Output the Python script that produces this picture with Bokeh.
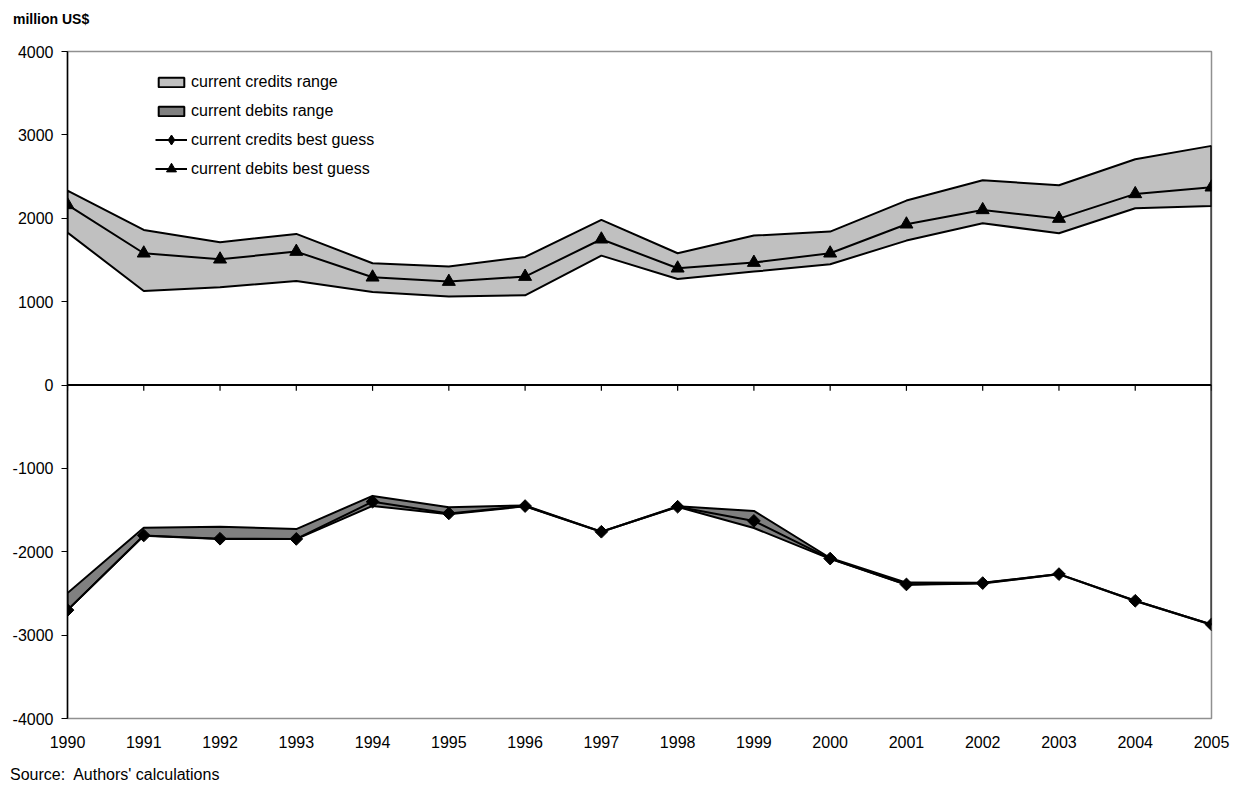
import math
from bokeh.plotting import figure
from bokeh.layouts import column
from bokeh.models import Range1d, FixedTicker, Span, Div, Legend, LegendItem
from bokeh.embed import file_html
from bokeh.resources import INLINE

years = list(range(1990, 2006))
y_ticks = [-4000, -3000, -2000, -1000, 0, 1000, 2000, 3000, 4000]

# upper band (light grey) with triangles
credits_high = [2332, 1860, 1712, 1812, 1460, 1420, 1536, 1980, 1580, 1792, 1840, 2212, 2456, 2396, 2708, 2868]
credits_low = [1828, 1128, 1172, 1248, 1116, 1060, 1076, 1552, 1272, 1360, 1448, 1732, 1940, 1820, 2120, 2148]
debits_best = [2160, 1580, 1508, 1600, 1292, 1240, 1300, 1748, 1400, 1468, 1580, 1928, 2100, 1996, 2292, 2372]

# lower band (dark grey) with diamonds
debits_high = [-2495, -1712, -1700, -1728, -1330, -1465, -1445, -1760, -1455, -1510, -2075, -2370, -2372, -2268, -2588, -2872]
debits_low = [-2700, -1808, -1846, -1848, -1450, -1550, -1455, -1762, -1462, -1715, -2085, -2396, -2380, -2270, -2590, -2875]
credits_best = [-2700, -1805, -1844, -1846, -1400, -1540, -1452, -1760, -1460, -1630, -2082, -2392, -2376, -2268, -2588, -2872]

FONT = "Liberation Sans"
FS = "16px"

p = figure(width=1231, height=718, x_range=Range1d(1990, 2005), y_range=Range1d(-4000, 4000),
           output_backend="svg", toolbar_location=None,
           min_border_left=67, min_border_right=20, min_border_top=11, min_border_bottom=40)
p.xgrid.visible = False
p.ygrid.visible = False
p.outline_line_color = "#909090"
p.outline_line_width = 1.5
p.background_fill_color = "white"
p.border_fill_color = "white"

# axes
p.yaxis.ticker = FixedTicker(ticks=y_ticks)
p.yaxis.major_label_overrides = {v: str(v) for v in y_ticks}
p.yaxis.axis_line_color = "black"
p.yaxis.axis_line_width = 1.5
p.yaxis.major_tick_line_color = "black"
p.yaxis.major_tick_out = 6
p.yaxis.major_tick_in = 0
p.yaxis.minor_tick_line_color = None
p.yaxis.major_label_standoff = 8
p.yaxis.major_label_text_font = FONT
p.yaxis.major_label_text_font_size = FS
p.yaxis.major_label_text_color = "black"

p.xaxis.ticker = FixedTicker(ticks=years)
p.xaxis.major_label_overrides = {y: str(y) for y in years}
p.xaxis.axis_line_color = None
p.xaxis.major_tick_line_color = None
p.xaxis.minor_tick_line_color = None
p.xaxis.major_tick_out = 0
p.xaxis.major_tick_in = 0
p.xaxis.major_label_standoff = 17
p.xaxis.major_label_text_font = FONT
p.xaxis.major_label_text_font_size = FS
p.xaxis.major_label_text_color = "black"

# bands as polygons
px = years + years[::-1]
r_cr = p.patch(px, credits_high + credits_low[::-1], fill_color="#C0C0C0", line_color="black", line_width=2)
r_db = p.patch(px, debits_high + debits_low[::-1], fill_color="#808080", line_color="black", line_width=2)

# closing vertical line at the last year
p.segment(x0=[years[-1]], y0=[credits_high[-1]], x1=[years[-1]], y1=[credits_best[-1]], line_color="black", line_width=2)

# zero axis with ticks
p.add_layout(Span(location=0, dimension="width", line_color="black", line_width=2))
p.segment(x0=years, y0=[0] * len(years), x1=years, y1=[-70] * len(years), line_color="black", line_width=1.2)

# best guess lines
l_cb = p.line(years, credits_best, line_color="black", line_width=2)
m_leg = p.scatter(years[:1], credits_best[:1], marker="diamond", size=10, fill_color="black", line_color="black")
m_cb = p.scatter(years, credits_best, marker="square", size=9, angle=math.pi / 4,
                 fill_color="black", line_color="black")
l_db = p.line(years, debits_best, line_color="black", line_width=2)
m_db = p.scatter(years, debits_best, marker="triangle", size=13, fill_color="black", line_color="black")


def style_legend(lg, gh, sp):
    lg.border_line_color = None
    lg.background_fill_alpha = 0
    lg.padding = 5
    lg.margin = 0
    lg.spacing = sp
    lg.glyph_width = 32
    lg.glyph_height = gh
    lg.label_height = 20
    lg.label_standoff = 4
    lg.label_text_font = FONT
    lg.label_text_font_size = FS
    lg.label_text_color = "black"


legend1 = Legend(items=[
    LegendItem(label="current credits range", renderers=[r_cr]),
    LegendItem(label="current debits range", renderers=[r_db]),
], location=(88, 597), orientation="vertical")
style_legend(legend1, 12, 9)
p.add_layout(legend1)

legend2 = Legend(items=[
    LegendItem(label="current credits best guess", renderers=[l_cb, m_leg]),
    LegendItem(label="current debits best guess", renderers=[l_db, m_db]),
], location=(88, 537), orientation="vertical")
style_legend(legend2, 25, 4)
p.add_layout(legend2)

top_div = Div(width=400, height=30,
              text='<div style="position:relative; left:8px; top:6px; font-family:\'Liberation Sans\'; '
                   'font-size:14px; font-weight:bold; line-height:16px; color:black; white-space:nowrap">million US$</div>')
bottom_div = Div(width=400, height=26,
                 text='<div style="position:relative; left:5px; top:3px; font-family:\'Liberation Sans\'; '
                      'font-size:16px; line-height:18px; color:black; white-space:pre">Source:  Authors\' calculations</div>')

layout = column(top_div, p, bottom_div, spacing=0)

open("out.html", "w").write(file_html(layout, INLINE))
